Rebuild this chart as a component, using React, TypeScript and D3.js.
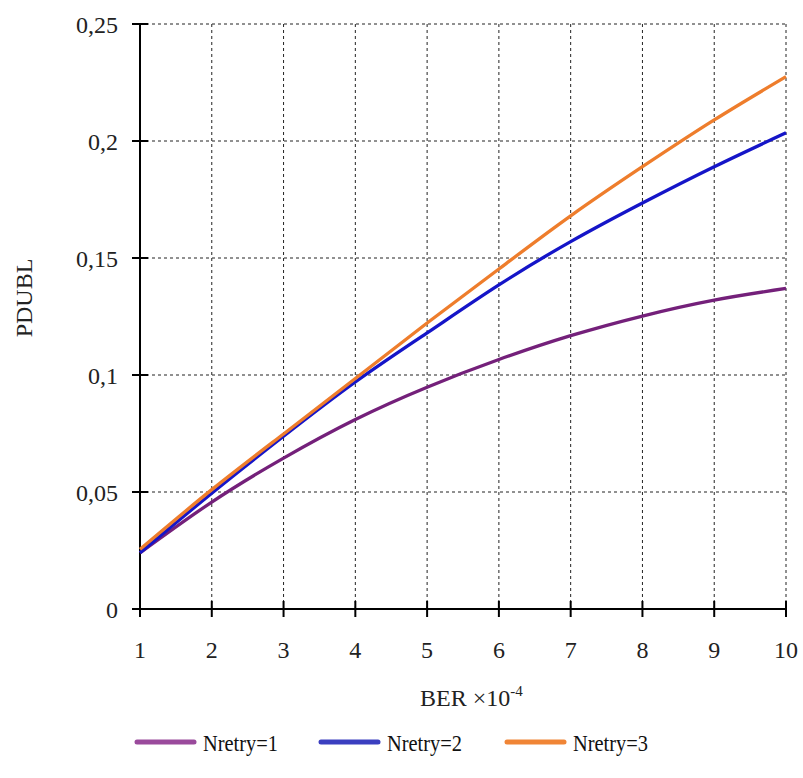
import React from "react";
import * as d3 from "d3";

const berValues = [1, 2, 3, 4, 5, 6, 7, 8, 9, 10];
const nretry1 = [0.024, 0.0457, 0.0645, 0.081, 0.0948, 0.1066, 0.1168, 0.1252, 0.132, 0.137];
const nretry2 = [0.024, 0.0495, 0.0738, 0.097, 0.118, 0.1385, 0.157, 0.1735, 0.189, 0.2035];
const nretry3 = [0.0255, 0.051, 0.0748, 0.0985, 0.1222, 0.1453, 0.168, 0.189, 0.209, 0.2275];
const yTicks = [0, 0.05, 0.1, 0.15, 0.2, 0.25];
const yTickLabels = ["0", "0,05", "0,1", "0,15", "0,2", "0,25"];
const seriesNames = ["Nretry=1", "Nretry=2", "Nretry=3"];
const seriesColors = ["#74207a", "#1515c8", "#ee7d2c"];
const legendColors = ["#9a4a9c", "#3b3fc0", "#f08536"];

export default function App() {
  const W = 803, H = 778;
  const x = d3.scaleLinear().domain([1, 10]).range([140, 786]);
  const y = d3.scaleLinear().domain([0, 0.25]).range([609, 24]);
  const line = d3
    .line<number>()
    .x((_, i) => x(berValues[i]))
    .y((d) => y(d))
    .curve(d3.curveNatural);
  const series = [nretry1, nretry2, nretry3];
  const fs = { fontFamily: "'Liberation Serif', 'Times New Roman', serif" };
  const legendX = [137, 321, 507];

  return (
    <svg width={W} height={H} style={{ position: "absolute", left: 0, top: 0 }}>
      <rect width={W} height={H} fill="#fff" />
      {/* grid */}
      {berValues.slice(1).map((v) => (
        <line key={"gx" + v} x1={x(v)} x2={x(v)} y1={y(0.25)} y2={y(0)} stroke="#222" strokeWidth={1} strokeDasharray="3,3" />
      ))}
      {yTicks.slice(1).map((v) => (
        <line key={"gy" + v} x1={x(1)} x2={x(10)} y1={y(v)} y2={y(v)} stroke="#222" strokeWidth={1} strokeDasharray="3,3" />
      ))}
      {/* axes */}
      <line x1={x(1)} x2={x(1)} y1={y(0.25)} y2={y(0) + 8} stroke="#000" strokeWidth={2} />
      <line x1={x(1) - 8} x2={x(10)} y1={y(0)} y2={y(0)} stroke="#000" strokeWidth={2} />
      {berValues.map((v) => (
        <line key={"tx" + v} x1={x(v)} x2={x(v)} y1={y(0) - 8} y2={y(0) + 8} stroke="#000" strokeWidth={2} />
      ))}
      {yTicks.map((v) => (
        <line key={"ty" + v} x1={x(1) - 8} x2={x(1) + 8} y1={y(v)} y2={y(v)} stroke="#000" strokeWidth={2} />
      ))}
      {berValues.map((v) => (
        <text key={"lx" + v} x={x(v)} y={658} textAnchor="middle" fontSize={24} fill="#222" style={fs}>
          {v}
        </text>
      ))}
      {yTicks.map((v, i) => (
        <text key={"ly" + v} x={118} y={y(v) + 9} textAnchor="end" fontSize={24} fill="#222" style={fs}>
          {yTickLabels[i]}
        </text>
      ))}
      {/* titles */}
      <text transform="translate(32,298) rotate(-90)" textAnchor="middle" fontSize={24} fill="#222" style={fs}>
        PDUBL
      </text>
      <text x={420} y={706} fontSize={24} fill="#222" style={fs}>
        BER ×10<tspan dy={-10} fontSize={15}>-4</tspan>
      </text>
      {/* series */}
      {series.map((s, i) => (
        <path key={"s" + i} d={line(s) || ""} fill="none" stroke={seriesColors[i]} strokeWidth={3.3} />
      ))}
      {/* legend */}
      {seriesNames.map((n, i) => (
        <g key={"lg" + i}>
          <line x1={legendX[i]} x2={legendX[i] + 57} y1={742} y2={742} stroke={legendColors[i]} strokeWidth={5} strokeLinecap="round" />
          <text x={legendX[i] + 66} y={751} fontSize={24} fill="#111" style={fs} textLength={75} lengthAdjust="spacingAndGlyphs">
            {n}
          </text>
        </g>
      ))}
    </svg>
  );
}
